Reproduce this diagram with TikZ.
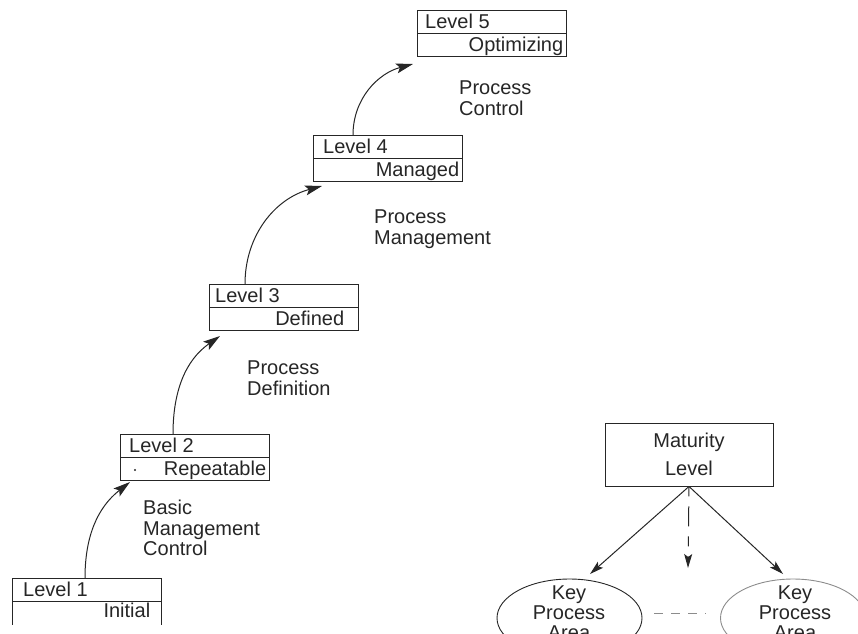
\documentclass[tikz,border=0pt]{standalone}
\usepackage{fontspec}
\setmainfont{Liberation Sans}
\usetikzlibrary{arrows.meta,shapes.geometric}
\definecolor{ink}{HTML}{262626}
\definecolor{faint}{HTML}{8C8C8C}

\begin{document}
\begin{tikzpicture}[x=1pt,y=1pt,
  lvbox/.style={draw=ink,line width=0.9pt,minimum width=148.5pt,minimum height=46pt,inner sep=0pt,anchor=north west},
  rule/.style={draw=ink,line width=0.9pt},
  lbl/.style={font=\fontsize{20}{20.5}\selectfont,text=ink,inner sep=0pt},
  note/.style={lbl,align=left,anchor=north west},
  bigtip/.tip={Stealth[length=17pt,width=10pt,inset=3.5pt]},
  smalltip/.tip={Stealth[length=14pt,width=8pt,inset=3pt]},
  climb/.style={draw=ink,line width=1pt,-bigtip},
  link/.style={draw=ink,line width=1pt,-smalltip},
  matbox/.style={draw=ink,line width=0.9pt,minimum width=168pt,minimum height=63pt,inner sep=0pt,
    align=center,font=\fontsize{20}{28}\selectfont,text=ink},
  kpa/.style={ellipse,draw=ink,line width=0.9pt,minimum width=145pt,minimum height=78pt,inner sep=0pt},
  kpatext/.style={lbl,align=center,font=\fontsize{20}{20}\selectfont},
]
\useasboundingbox (0,0) rectangle (858,-633);
\clip (0,0) rectangle (858,-633);

% ---- maturity levels (staircase) ----
% Level 1 : open at the bottom
\node[lvbox,draw=none] (l1) at (12,-578) {};
\draw[rule] (l1.south west) -- (l1.north west) -- (l1.north east) -- (l1.south east);
\draw[rule] (l1.west) -- (l1.east);
\node[lbl,anchor=base west] (l1t) at ([xshift=11pt,yshift=4.5pt]l1.west) {Level 1};
\node[lbl,anchor=base east] (l1b) at ([xshift=-11pt,yshift=-16.5pt]l1.east) {Initial};

% Level 2
\node[lvbox] (l2) at (120,-434) {};
\draw[rule] (l2.west) -- (l2.east);
\node[lbl,anchor=base west] (l2t) at ([xshift=9pt,yshift=4.5pt]l2.west) {Level 2};
\node[lbl,anchor=base east] (l2b) at ([xshift=-3pt,yshift=-18.5pt]l2.east) {Repeatable};
\node[circle,fill=ink,inner sep=0pt,minimum size=2.2pt] (l2dot) at (135,-470) {};

% Level 3
\node[lvbox] (l3) at (209,-284) {};
\draw[rule] (l3.west) -- (l3.east);
\node[lbl,anchor=base west] (l3t) at ([xshift=6pt,yshift=4.5pt]l3.west) {Level 3};
\node[lbl,anchor=base east] (l3b) at ([xshift=-14pt,yshift=-18.5pt]l3.east) {Defined};

% Level 4
\node[lvbox] (l4) at (313,-135) {};
\draw[rule] (l4.west) -- (l4.east);
\node[lbl,anchor=base west] (l4t) at ([xshift=10pt,yshift=4.5pt]l4.west) {Level 4};
\node[lbl,anchor=base east] (l4b) at ([xshift=-3pt,yshift=-18.5pt]l4.east) {Managed};

% Level 5
\node[lvbox] (l5) at (417,-10) {};
\draw[rule] (l5.west) -- (l5.east);
\node[lbl,anchor=base west] (l5t) at ([xshift=8pt,yshift=4.5pt]l5.west) {Level 5};
\node[lbl,anchor=base east] (l5b) at ([xshift=-3pt,yshift=-18.5pt]l5.east) {Optimizing};

% ---- transitions between levels ----
\coordinate (t2) at (130,-482);
\coordinate (t3) at (220,-336);
\coordinate (t4) at (322,-186);
\coordinate (t5) at (413,-64);
\draw[climb] ([xshift=73pt]l1.north west) to[out=90,in=218] (t2);
\draw[climb] ([xshift=53pt]l2.north west) to[out=90,in=215] (t3);
\draw[climb] ([xshift=36pt]l3.north west) to[out=90,in=195] (t4);
\draw[climb] ([xshift=40pt]l4.north west) to[out=90,in=195] (t5);

\node[note] (n2) at (143,-500) {Basic\\Management\\Control};
\node[note] (n3) at (247,-361) {Process\\Definition};
\node[note] (n4) at (374,-210) {Process\\Management};
\node[note] (n5) at (459,-81) {Process\\Control};

% ---- maturity level and its key process areas ----
\node[matbox] (mat) at (689,-454.5) {Maturity\\Level};

\node[kpa] (k1) at (569.5,-618) {};
\node[kpatext] (k1t) at (569,-613) {Key\\Process\\Area};
\node[kpa,draw=faint] (k2) at (793,-618) {};
\node[kpatext] (k2t) at (795,-613) {Key\\Process\\Area};

\coordinate (a1) at (590,-574);
\coordinate (a2) at (783,-574);
\coordinate (a3) at (688,-568);
\draw[link] (mat.south) -- (a1);
\draw[link] (mat.south) -- (a2);
\draw[link,dash pattern=on 10pt off 10pt on 20pt off 10pt] (mat.south) -- (a3);

\draw[draw=faint,line width=0.8pt,dash pattern=on 9pt off 8pt]
  ([xshift=12pt,yshift=5pt]k1.east) -- ([xshift=-14pt,yshift=5pt]k2.west);
\end{tikzpicture}
\end{document}
